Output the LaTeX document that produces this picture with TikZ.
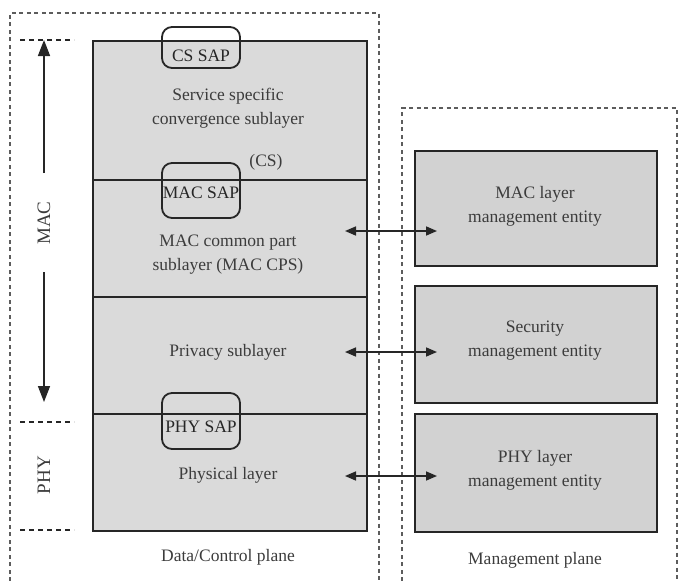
\documentclass[tikz,border=0pt]{standalone}
\usepackage{fontspec}
\setmainfont{Liberation Serif}
\usetikzlibrary{arrows.meta}
\definecolor{layerfill}{HTML}{DADADA}
\definecolor{entfill}{HTML}{D2D2D2}
\definecolor{ink}{HTML}{262626}
\begin{document}
\begin{tikzpicture}[x=1pt,y=-1pt,
  layer/.style={draw=ink,line width=1.5pt,fill=layerfill,minimum width=274pt,inner sep=0pt,anchor=north west},
  entity/.style={draw=ink,line width=1.7pt,fill=entfill,minimum width=242pt,inner sep=0pt,anchor=north west},
  sap/.style={draw=ink,line width=1.8pt,rounded corners=10pt,minimum width=78pt,inner sep=0pt},
  saptxt/.style={font=\fontsize{17.5}{20}\selectfont,text=ink,inner sep=0pt},
  txt/.style={font=\fontsize{17.5}{24}\selectfont,align=center,text=ink!90},
  side/.style={font=\fontsize{19}{22}\selectfont,text=ink!90,rotate=90},
  plane/.style={draw=ink!75,line width=1.3pt,dash pattern=on 4pt off 3.5pt},
  tick/.style={draw=ink,line width=1.6pt,dash pattern=on 5pt off 4pt},
  dbl/.style={draw=ink,line width=1.6pt,{Triangle[length=11pt,width=9pt]}-{Triangle[length=11pt,width=9pt]}},
  sarrow/.style={draw=ink,line width=1.6pt,-{Triangle[length=16pt,width=12pt]}}]
\useasboundingbox (0,0) rectangle (678,581);
% planes
\draw[plane] (10,581) -- (10,13) -- (379,13) -- (379,581);
\draw[plane] (402,581) -- (402,108) -- (677,108) -- (677,581);
% layers
\node[layer,minimum height=139pt] (cs) at (92,40) {};
\node[layer,minimum height=117pt] (cps) at (92,179) {};
\node[layer,minimum height=117pt] (priv) at (92,296) {};
\node[layer,minimum height=117pt] (phy) at (92,413) {};
% layer texts
\node[txt] (cst) at (228,108) {Service specific\\convergence sublayer};
\node[txt] (csa) at (266,162) {(CS)};
\node[txt] (cpst) at (228,255) {MAC common part\\sublayer (MAC CPS)};
\node[txt] (privt) at (228,352) {Privacy sublayer};
\node[txt] (phyt) at (228,475) {Physical layer};
\node[txt] (dcp) at (228,557) {Data/Control plane};
% SAPs
\node[sap,minimum height=41pt] (cssap) at (201,47.5) {};
\node[sap,minimum height=55pt] (macsap) at (201,190.5) {};
\node[sap,minimum height=56pt] (physap) at (201,421) {};
\node[saptxt] (cssapt) at (201,56) {CS SAP};
\node[saptxt] (macsapt) at (201,193) {MAC SAP};
\node[saptxt] (physapt) at (201,427) {PHY SAP};
% side ticks
\coordinate (t1a) at (20,40); \coordinate (t1b) at (74,40);
\coordinate (t2a) at (20,422); \coordinate (t2b) at (74,422);
\coordinate (t3a) at (20,530); \coordinate (t3b) at (74,530);
\draw[tick] (t1a) -- (t1b);
\draw[tick] (t2a) -- (t2b);
\draw[tick] (t3a) -- (t3b);
\node[side] (mac) at (44,223) {MAC};
\node[side] (phyl) at (44,475) {PHY};
\coordinate (mtop) at (44,40);
\coordinate (mbot) at (44,402);
\coordinate (mgapt) at (44,173);
\coordinate (mgapb) at (44,272);
\draw[sarrow] (mgapt) -- (mtop);
\draw[sarrow] (mgapb) -- (mbot);
% entities
\node[entity,minimum height=115pt] (e1) at (414,150) {};
\node[entity,minimum height=117pt] (e2) at (414,285) {};
\node[entity,minimum height=118pt] (e3) at (414,413) {};
\node[txt] (e1t) at (535,206) {MAC layer\\management entity};
\node[txt] (e2t) at (535,341) {Security\\management entity};
\node[txt] (e3t) at (535,470) {PHY layer\\management entity};
\node[txt] (mp) at (535,560) {Management plane};
% double arrows
\coordinate (a1l) at (345,231); \coordinate (a1r) at (437,231);
\coordinate (a2l) at (345,352); \coordinate (a2r) at (437,352);
\coordinate (a3l) at (345,476); \coordinate (a3r) at (437,476);
\draw[dbl] (a1l) -- (a1r);
\draw[dbl] (a2l) -- (a2r);
\draw[dbl] (a3l) -- (a3r);
\end{tikzpicture}
\end{document}
